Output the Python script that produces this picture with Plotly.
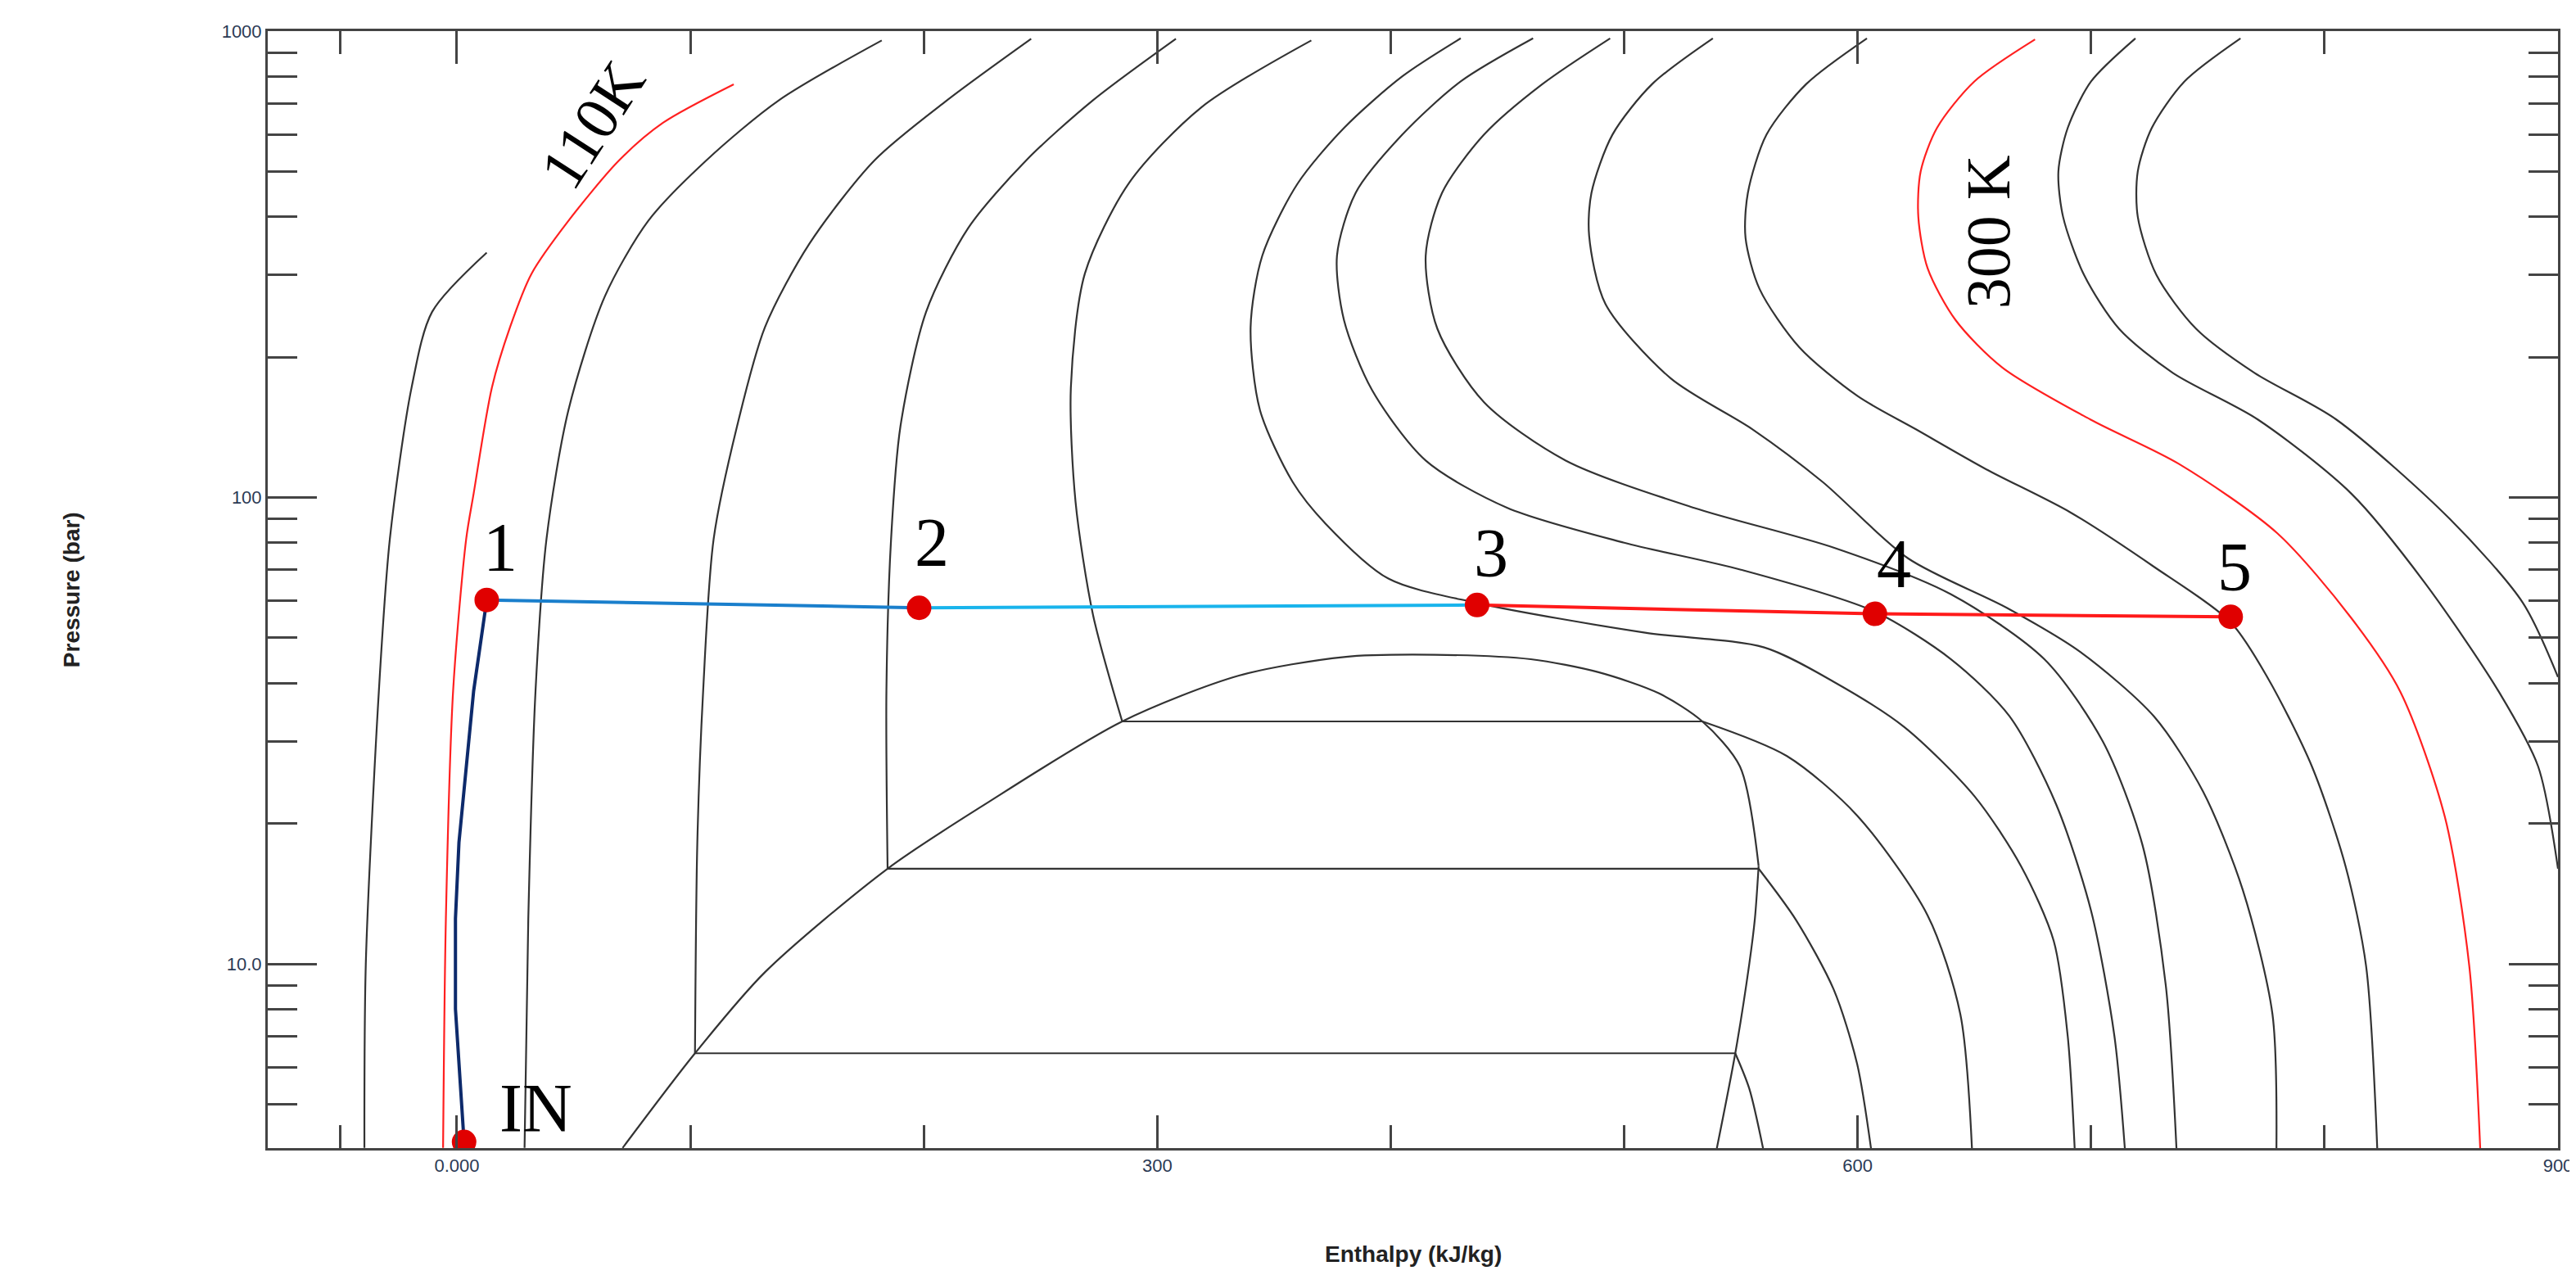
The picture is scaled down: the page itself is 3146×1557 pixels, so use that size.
import math
import plotly.graph_objects as go

# isotherms (enthalpy kJ/kg, pressure bar)
h_a = [12.8, -10.6, -19.4, -28.7, -33.4, -39, -39.6]
p_a = [335, 250, 172, 81.5, 38.5, 10, 4.03]

h_110 = [118.6, 88.3, 69.6, 47.8, 32, 22.8, 15, 7.2, 4, -1.6, -4.7, -5.9]
p_110 = [769, 636, 529, 392, 302, 232, 172, 102, 81.5, 38.5, 12.5, 4.03]

h_c = [182, 138, 107, 82, 63.4, 47.8, 38.4, 33.7, 30.6, 29]
p_c = [955, 711, 529, 392, 270, 154, 81.5, 38.5, 12.5, 4.03]

# D, E, F: liquid branch, flat two-phase segment, vapour branch
h_d_liq = [246, 210, 179, 151, 132, 120, 110, 105.5, 103, 102]
p_d_liq = [963, 711, 529, 350, 232, 142, 81.5, 38.5, 18.2, 6.43]
h_d_vap = [547.6, 553.6, 559.6]
p_d_vap = [6.43, 5.4, 4.0]

h_e_liq = [308, 272.5, 244, 219, 201, 190, 186, 184, 184.5]
p_e_liq = [963, 711, 529, 378, 250, 142, 81.5, 38.5, 16]
h_e_vap = [557.6, 573.7, 589.8, 599.8, 605.8]
p_e_vap = [16, 12.4, 8.8, 6.1, 4.0]

h_f_liq = [366, 319, 288, 269, 263, 265, 272.5, 285]
p_f_liq = [955, 687, 473, 302, 172, 98, 56, 33.1]
h_f_vap = [533.5, 569.7, 599.8, 630, 644, 649]
p_f_vap = [33.1, 27.9, 20.8, 12.7, 7.8, 4.0]

h_g = [430, 405, 380, 360, 345, 340, 344, 358, 372, 399, 437, 509, 560, 590, 620, 650, 670, 684, 690, 693]
p_g = [965, 800, 620, 470, 330, 232, 154, 108, 88, 67, 59.4, 51.3, 47.7, 40.2, 32.2, 22.9, 16.2, 11.2, 7, 4.0]

h_h = [461, 430, 405, 385, 377, 380, 392, 415, 450, 500, 550, 607, 640, 665, 685, 700, 710, 714.5]
p_h = [965, 780, 600, 450, 330, 240, 170, 120, 95, 80, 70, 57, 45, 34, 22, 13, 7, 4.0]

h_i = [494, 465, 440, 422, 415, 420, 440, 475, 530, 590, 640, 680, 705, 722, 732, 736.6]
p_i = [965, 770, 600, 450, 330, 230, 160, 120, 95, 78, 62, 45, 30, 18, 9, 4.0]

h_j = [538, 512, 495, 486, 485, 492, 520, 555, 585, 621.7, 663.9, 695.5, 727, 748, 765, 777.7, 779.4]
p_j = [965, 770, 600, 450, 364, 260, 180, 140, 108, 74, 58, 46.6, 33.9, 23.4, 14.4, 7.8, 4.0]

h_k = [604, 578, 561, 553, 552, 558, 575, 600, 625, 655, 691, 727, 759.8, 775.6, 794.6, 809, 817.8, 822.6]
p_k = [965, 770, 600, 450, 360, 280, 210, 165, 140, 115, 93, 71, 54, 41.1, 26.5, 16.2, 9.9, 4.0]

h_300 = [676, 650, 634, 627, 626, 630, 642, 662, 699.7, 737.7, 779.8, 811.4, 832.5, 851.5, 862, 866.7]
p_300 = [960, 780, 620, 500, 400, 310, 240, 190, 147, 118, 83.8, 55.2, 38.3, 20.7, 9.9, 4.0]

h_l = [719, 700, 690, 686, 688, 697, 712, 735, 771.4, 811.4, 843, 874.7, 891.5, 900]
p_l = [965, 780, 620, 500, 400, 300, 230, 185, 147, 102, 65.6, 38.3, 26.5, 16]

h_m = [764, 740, 726, 720, 720, 728, 745, 770, 805, 853.6, 885, 900]
p_m = [965, 780, 620, 500, 400, 300, 230, 185, 147, 90, 59.4, 41.2]

# two-phase dome
h_dome = [71, 102, 132, 184.5, 225.7, 285, 335, 380, 419, 460, 489, 515, 533.5, 549.6, 557.6, 556, 553.6, 547.6, 539.6]
p_dome = [4.03, 6.43, 9.6, 16, 21.9, 33.1, 41.5, 45.5, 46, 45, 42.2, 38, 33.1, 26.5, 16.2, 12.5, 10, 6.43, 4.0]

# process path
h_in1 = [3.1, -0.6, -0.6, 0.9, 7.2, 12.8]
p_in1 = [4.15, 8, 12.5, 18.2, 38.5, 60.3]
pt_names = ["IN", "1", "2", "3", "4", "5"]
pt_h = [3.1, 12.8, 198, 437, 607.4, 759.8]
pt_p = [4.15, 60.3, 58, 58.8, 56.3, 55.5]
lbl_h = [34, 18.5, 203.5, 443, 615.6, 761.6]
lbl_p = [4.9, 78, 80, 76, 72, 71]

fig = go.Figure()

smooth = [(h_a, p_a), (h_c, p_c), (h_d_liq, p_d_liq), (h_d_vap, p_d_vap), (h_e_liq, p_e_liq),
          (h_e_vap, p_e_vap), (h_f_liq, p_f_liq), (h_f_vap, p_f_vap), (h_g, p_g), (h_h, p_h),
          (h_i, p_i), (h_j, p_j), (h_k, p_k), (h_l, p_l), (h_m, p_m)]
for hx, px in smooth:
    fig.add_trace(go.Scatter(x=hx, y=px, mode="lines",
                             line=dict(color="#333333", width=2.2, shape="spline", smoothing=0.8)))
# dome split at its kinks so the spline stays on them
fig.add_trace(go.Scatter(x=h_dome[:15], y=p_dome[:15], mode="lines",
                         line=dict(color="#333333", width=2.2, shape="spline", smoothing=0.8)))
fig.add_trace(go.Scatter(x=h_dome[14:], y=p_dome[14:], mode="lines",
                         line=dict(color="#333333", width=2.2, shape="spline", smoothing=0.8)))
# flat two-phase segments
for hl, pl, hv in [(h_d_liq, p_d_liq, h_d_vap), (h_e_liq, p_e_liq, h_e_vap), (h_f_liq, p_f_liq, h_f_vap)]:
    fig.add_trace(go.Scatter(x=[hl[-1], hv[0]], y=[pl[-1], pl[-1]], mode="lines",
                             line=dict(color="#333333", width=2.2)))
for hx, px in [(h_110, p_110), (h_300, p_300)]:
    fig.add_trace(go.Scatter(x=hx, y=px, mode="lines",
                             line=dict(color="#ff2020", width=2.2, shape="spline", smoothing=0.8)))

fig.add_trace(go.Scatter(x=h_in1, y=p_in1, mode="lines", line=dict(color="#0d2a6b", width=4)))
fig.add_trace(go.Scatter(x=pt_h[1:3], y=pt_p[1:3], mode="lines", line=dict(color="#1a7fcc", width=4)))
fig.add_trace(go.Scatter(x=pt_h[2:4], y=pt_p[2:4], mode="lines", line=dict(color="#19b4ec", width=4)))
fig.add_trace(go.Scatter(x=pt_h[3:], y=pt_p[3:], mode="lines", line=dict(color="#ff1a1a", width=4)))
fig.add_trace(go.Scatter(x=pt_h, y=pt_p, mode="markers", marker=dict(color="#e00000", size=30)))

for n, hx, px in zip(pt_names, lbl_h, lbl_p):
    fig.add_annotation(x=hx, y=math.log10(px), text=n, showarrow=False,
                       font=dict(family="Liberation Serif", size=84, color="black"))
fig.add_annotation(x=58, y=2.8, text="110K", textangle=-57, showarrow=False,
                   font=dict(family="Liberation Serif", size=76, color="black"))
fig.add_annotation(x=656, y=2.57, text="300 K", textangle=-90, showarrow=False,
                   font=dict(family="Liberation Serif", size=76, color="black"))

fig.add_annotation(xref="paper", yref="paper", x=-0.092, y=0.5, text="<b>Pressure (bar)</b>",
                   textangle=-90, showarrow=False, font=dict(family="Liberation Sans", size=28, color="#222"))
fig.add_annotation(xref="paper", yref="paper", x=0.5, y=-0.095, yanchor="middle", text="<b>Enthalpy (kJ/kg)</b>",
                   showarrow=False, font=dict(family="Liberation Sans", size=28, color="#222"))

axis_common = dict(showgrid=False, zeroline=False, showline=True, linecolor="#444", linewidth=3,
                   mirror="ticks", ticks="inside", tickcolor="#444", tickwidth=3,
                   tickfont=dict(family="Liberation Sans", size=22, color="#2b3a55"))
fig.update_xaxes(range=[-81, 900], tickvals=[0, 300, 600, 900], ticktext=["0.000", "300", "600", "900"],
                 ticklen=40, minor=dict(ticks="inside", tickvals=[-50, 100, 200, 400, 500, 700, 800], ticklen=28,
                                        tickcolor="#444", tickwidth=3), **axis_common)
fig.update_yaxes(type="log", range=[0.605, 3], tickvals=[10, 100, 1000], ticktext=["10.0", "100", "1000"],
                 ticklen=60, minor=dict(ticks="inside", tickvals=[5, 6, 7, 8, 9, 20, 30, 40, 50, 60, 70, 80, 90,
                                                                   200, 300, 400, 500, 600, 700, 800, 900],
                                        ticklen=36, tickcolor="#444", tickwidth=3), **axis_common)
fig.update_layout(width=3146, height=1557, showlegend=False, plot_bgcolor="white", paper_bgcolor="white",
                  margin=dict(l=319, r=30, t=30, b=163))
fig.write_html("out.html")
